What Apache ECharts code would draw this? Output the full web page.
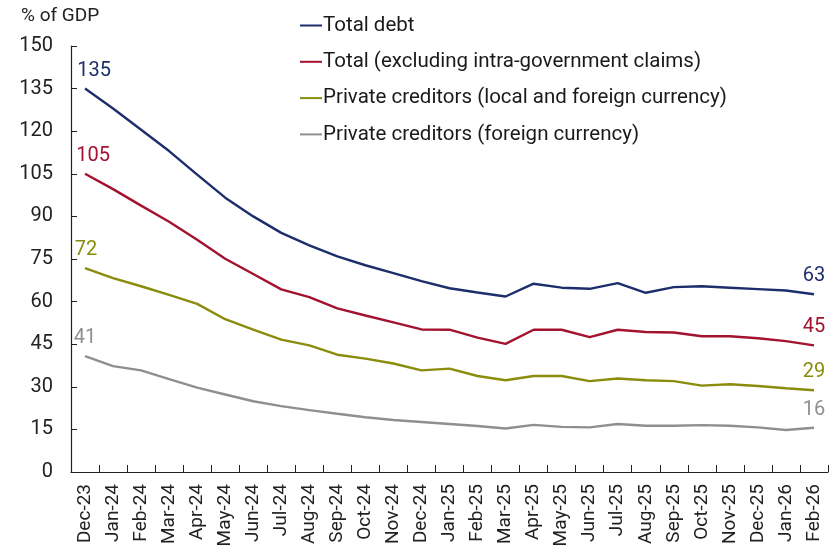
<!DOCTYPE html>
<html>
<head>
<meta charset="utf-8">
<script src="https://cdn.jsdelivr.net/npm/echarts@6/dist/echarts.min.js"></script>
<style>
  html, body { margin: 0; padding: 0; background: #fff; }
  #chart { width: 836px; height: 553px; }
</style>
</head>
<body>
<div id="chart"></div>
<script>
// Monthly debt stock, % of GDP
const months = ['Dec-23','Jan-24','Feb-24','Mar-24','Apr-24','May-24','Jun-24','Jul-24','Aug-24','Sep-24','Oct-24','Nov-24','Dec-24',
  'Jan-25','Feb-25','Mar-25','Apr-25','May-25','Jun-25','Jul-25','Aug-25','Sep-25','Oct-25','Nov-25','Dec-25','Jan-26','Feb-26'];

const totalDebt = [135, 128, 120.5, 113, 104.7, 96.6, 90, 84.2, 79.8, 75.9, 72.8, 70, 67.2,
  64.7, 63.2, 61.8, 66.3, 64.9, 64.5, 66.5, 63.1, 65.1, 65.4, 64.9, 64.4, 63.9, 62.6];
const totalExIntraGov = [105, 99.6, 93.8, 88.1, 81.8, 75.1, 69.7, 64.3, 61.6, 57.6, 55.1, 52.7, 50.2,
  50.1, 47.3, 45.1, 50.1, 50.1, 47.5, 50.1, 49.3, 49.1, 47.8, 47.8, 47.1, 46.1, 44.6];
const privateLocalForeign = [71.8, 68.3, 65.4, 62.4, 59.2, 53.8, 50.1, 46.6, 44.6, 41.3, 39.9, 38.2, 35.8,
  36.4, 33.8, 32.3, 33.8, 33.8, 32.0, 32.9, 32.3, 32.0, 30.4, 30.9, 30.3, 29.5, 28.8];
const privateForeign = [40.8, 37.3, 35.8, 32.7, 29.7, 27.3, 24.9, 23.2, 21.8, 20.5, 19.3, 18.3, 17.6,
  16.9, 16.2, 15.3, 16.6, 15.9, 15.7, 16.9, 16.3, 16.3, 16.5, 16.3, 15.7, 14.8, 15.6];

const yTicks = [0, 15, 30, 45, 60, 75, 90, 105, 120, 135, 150];

const seriesDefs = [
  { name: 'Total debt', data: totalDebt, color: '#1c2e6c', startOffset: 9 },
  { name: 'Total (excluding intra-government claims)', data: totalExIntraGov, color: '#a3122f', startOffset: 8 },
  { name: 'Private creditors (local and foreign currency)', data: privateLocalForeign, color: '#8a8c0c', startOffset: 1 },
  { name: 'Private creditors (foreign currency)', data: privateForeign, color: '#8f8f8f', startOffset: 0 }
];

const FONT = 'Roboto, "Noto Sans", sans-serif';

function buildSeries(def) {
  const last = def.data.length - 1;
  return {
    name: def.name,
    type: 'line',
    showSymbol: true,
    symbol: 'circle',
    symbolSize: 0,
    lineStyle: { color: def.color, width: 2.4 },
    itemStyle: { color: def.color },
    emphasis: { disabled: true },
    data: def.data.map((v, i) => {
      const item = { value: v };
      if (i === 0 || i === last) {
        item.label = {
          show: true,
          position: 'top',
          distance: 8,
          offset: [i === 0 ? def.startOffset : 0, 0],
          color: def.color,
          fontSize: 20,
          fontFamily: FONT,
          formatter: p => String(Math.round(p.value))
        };
      }
      return item;
    })
  };
}

const chart = echarts.init(document.getElementById('chart'), null, { renderer: 'canvas' });
chart.setOption({
  animation: false,
  backgroundColor: '#ffffff',
  textStyle: { fontFamily: FONT },
  title: {
    text: '% of GDP',
    left: 16,
    top: 2,
    textStyle: { fontSize: 19, fontWeight: 'normal', color: '#222', fontFamily: FONT }
  },
  legend: {
    orient: 'vertical',
    left: 295,
    top: 10,
    padding: 5,
    itemWidth: 22,
    itemHeight: 2,
    itemGap: 15.3,
    icon: 'rect',
    textStyle: { fontSize: 20.5, color: '#1a1a1a', fontFamily: FONT, padding: [0, 0, 0, -4], lineHeight: 21 },
    data: seriesDefs.map(d => d.name)
  },
  grid: { left: 71, right: 8, top: 46, bottom: 81, containLabel: false },
  xAxis: {
    type: 'category',
    data: months,
    boundaryGap: true,
    axisLine: { lineStyle: { color: '#222', width: 1.2 } },
    axisTick: { show: true, inside: true, length: 7, alignWithLabel: false, lineStyle: { color: '#222' } },
    axisLabel: { rotate: 90, interval: 0, fontSize: 19, color: '#222', margin: 12, fontFamily: FONT },
    splitLine: { show: false }
  },
  yAxis: {
    type: 'value',
    min: yTicks[0],
    max: yTicks[yTicks.length - 1],
    interval: yTicks[1] - yTicks[0],
    axisLine: { show: true, lineStyle: { color: '#222', width: 1.2 } },
    axisTick: { show: true, inside: true, length: 6, lineStyle: { color: '#222' } },
    axisLabel: { fontSize: 20, color: '#222', margin: 18, fontFamily: FONT },
    splitLine: { show: false }
  },
  series: seriesDefs.map(buildSeries)
});
</script>
</body>
</html>
